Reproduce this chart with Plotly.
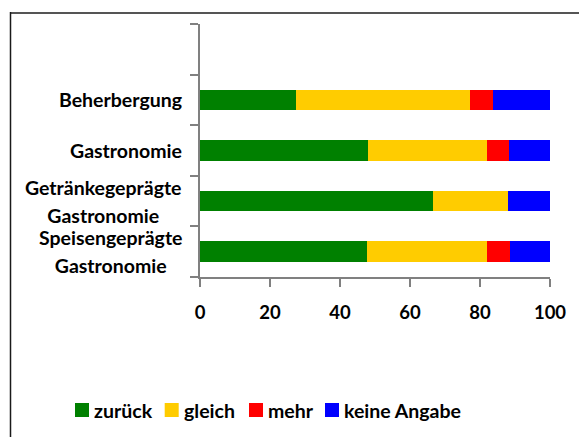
import plotly.graph_objects as go

# Survey categories (bottom to top) and the answer shares in percent
categories = [
    "Speisengeprägte<br>Gastronomie",
    "Getränkegeprägte<br>Gastronomie",
    "Gastronomie",
    "Beherbergung",
]
series_names = ["zurück", "gleich", "mehr", "keine Angabe"]
zurueck = [47.8, 66.7, 48.1, 27.5]
gleich = [34.3, 21.2, 34.0, 49.7]
mehr = [6.5, 0.0, 6.2, 6.6]
keine_angabe = [11.4, 12.4, 11.7, 16.2]
x_ticks = [0, 20, 40, 60, 80, 100]

colors = ["#008000", "#FFCC00", "#FF0000", "#0000FF"]
values = [zurueck, gleich, mehr, keine_angabe]

W, H = 579, 437
L, R, T, B = 200, 29, 24, 160
PW, PH = W - L - R, H - T - B


def px(x):
    return (x - L) / PW


def py(y):
    return (H - B - y) / PH


FONT = "Lato"
positions = list(range(len(categories)))

fig = go.Figure()
for name, vals, col in zip(series_names, values, colors):
    fig.add_trace(go.Bar(
        x=vals, y=positions, name=name, orientation="h",
        marker=dict(color=col, line=dict(width=0)),
        width=0.41, showlegend=False,
    ))

# category labels, centred lines, right-aligned block
annotations = []
for pos, cat in zip(positions, categories):
    annotations.append(dict(
        x=px(184), xref="paper", y=pos, yref="y",
        xanchor="right", yanchor="middle", align="center",
        text="<br>".join(f"<span style='font-size:19.5px'>{ln}</span>" for ln in cat.split("<br>")),
        showarrow=False,
        font=dict(family=FONT, size=21.5, color="black", weight="bold"),
    ))

# legend row
sq_left = [75, 164.7, 249, 325]
for name, col, x0 in zip(series_names, colors, sq_left):
    annotations.append(dict(
        x=px(x0 + 17), xref="paper", y=py(410), yref="paper",
        xanchor="left", yanchor="middle", text=name, showarrow=False,
        font=dict(family=FONT, size=19.5, color="black", weight="bold"),
    ))

shapes = []
for col, x0 in zip(colors, sq_left):
    shapes.append(dict(
        type="rect", xref="paper", yref="paper",
        x0=px(x0), x1=px(x0 + 14), y0=py(417), y1=py(403),
        fillcolor=col, line=dict(width=0),
    ))

# outer frame
shapes.append(dict(type="line", xref="paper", yref="paper",
                   x0=px(10), x1=px(640), y0=py(13), y1=py(13),
                   line=dict(color="#555555", width=2)))
shapes.append(dict(type="line", xref="paper", yref="paper",
                   x0=px(10.5), x1=px(10.5), y0=py(12), y1=py(470),
                   line=dict(color="#1a1a1a", width=1.5)))

fig.update_layout(
    width=W, height=H,
    margin=dict(l=L, r=R, t=T, b=B, pad=0),
    barmode="stack",
    plot_bgcolor="white", paper_bgcolor="white",
    annotations=annotations, shapes=shapes,
    showlegend=False,
    xaxis=dict(
        range=[0, 100], tickvals=x_ticks, showgrid=False, zeroline=False,
        showline=True, linecolor="#808080", linewidth=2,
        ticks="outside", ticklen=8, tickwidth=2, tickcolor="#808080",
        ticklabelstandoff=10,
        tickfont=dict(family=FONT, size=18.5, color="black", weight="bold"),
        fixedrange=True,
    ),
    yaxis=dict(
        range=[-0.5, len(categories) + 0.5],
        tickvals=[i - 0.5 for i in range(len(categories) + 2)],
        showticklabels=False, showgrid=False, zeroline=False,
        showline=True, linecolor="#808080", linewidth=2,
        ticks="outside", ticklen=8, tickwidth=2, tickcolor="#808080",
        fixedrange=True,
    ),
)

fig.write_html("out.html")
